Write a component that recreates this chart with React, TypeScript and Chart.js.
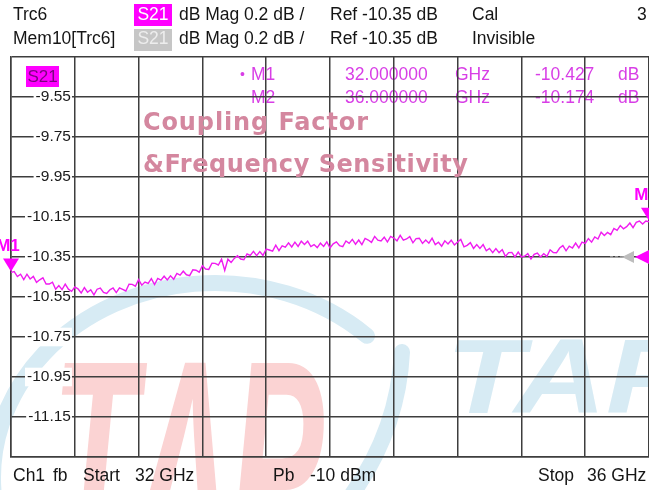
import React, { useEffect, useRef } from 'react';
import { Chart, registerables } from 'chart.js';

Chart.register(...registerables);

const FONT = "'Liberation Sans', Arial, Helvetica, sans-serif";
const WIDE_FONT = "'DejaVu Sans', Verdana, sans-serif";

// Sweep
const START_GHZ = 32;
const STOP_GHZ = 36;

// Trc6 S21 dB Mag (201 sweep points)
const S21_DB = [
  -10.427, -10.423, -10.448, -10.436, -10.463,
  -10.436, -10.460, -10.447, -10.477, -10.464,
  -10.454, -10.485, -10.485, -10.476, -10.511,
  -10.493, -10.513, -10.486, -10.511, -10.522,
  -10.500, -10.509, -10.530, -10.503, -10.526,
  -10.514, -10.539, -10.511, -10.505, -10.527,
  -10.532, -10.514, -10.505, -10.528, -10.504,
  -10.512, -10.520, -10.486, -10.487, -10.496,
  -10.463, -10.491, -10.475, -10.482, -10.458,
  -10.488, -10.457, -10.466, -10.446, -10.465,
  -10.444, -10.461, -10.432, -10.441, -10.421,
  -10.439, -10.443, -10.414, -10.416, -10.426,
  -10.394, -10.410, -10.412, -10.381, -10.382,
  -10.390, -10.361, -10.417, -10.361, -10.377,
  -10.357, -10.344, -10.360, -10.364, -10.335,
  -10.342, -10.322, -10.343, -10.323, -10.342,
  -10.310, -10.315, -10.321, -10.291, -10.318,
  -10.294, -10.301, -10.279, -10.300, -10.276,
  -10.297, -10.271, -10.287, -10.271, -10.298,
  -10.288, -10.303, -10.281, -10.297, -10.274,
  -10.305, -10.284, -10.274, -10.293, -10.298,
  -10.270, -10.282, -10.262, -10.286, -10.265,
  -10.288, -10.257, -10.265, -10.277, -10.247,
  -10.266, -10.270, -10.251, -10.275, -10.247,
  -10.255, -10.269, -10.242, -10.266, -10.260,
  -10.248, -10.279, -10.258, -10.256, -10.282,
  -10.265, -10.281, -10.256, -10.288, -10.276,
  -10.296, -10.269, -10.285, -10.266, -10.290,
  -10.275, -10.262, -10.299, -10.292, -10.278,
  -10.307, -10.288, -10.307, -10.288, -10.319,
  -10.307, -10.328, -10.308, -10.328, -10.313,
  -10.347, -10.328, -10.327, -10.350, -10.325,
  -10.350, -10.346, -10.333, -10.360, -10.337,
  -10.330, -10.350, -10.334, -10.347, -10.314,
  -10.328, -10.329, -10.305, -10.293, -10.319,
  -10.296, -10.305, -10.280, -10.304, -10.276,
  -10.282, -10.258, -10.276, -10.250, -10.260,
  -10.226, -10.243, -10.227, -10.238, -10.207,
  -10.217, -10.193, -10.209, -10.198, -10.180,
  -10.203, -10.177, -10.170, -10.185, -10.170,
  -10.174,
];

const X_TICKS_GHZ = [32, 32.4, 32.8, 33.2, 33.6, 34, 34.4, 34.8, 35.2, 35.6, 36];
const Y_TICKS_DB = [-9.35, -9.55, -9.75, -9.95, -10.15, -10.35, -10.55, -10.75, -10.95, -11.15, -11.35];
const Y_TICK_LABELS = ['', '-9.55', '-9.75', '-9.95', '-10.15', '-10.35', '-10.55', '-10.75', '-10.95', '-11.15', ''];

const MARKER_NAMES = ['M1', 'M2'];
const MARKER_GHZ = [32, 36];
const MARKER_DB = [-10.427, -10.174];
const MARKER_FREQ_TEXT = ['32.000000', '36.000000'];
const MARKER_VAL_TEXT = ['-10.427', '-10.174'];
const REF_LEVEL_DB = -10.35;

const TRACE = '#f01cf0';
const MAG = '#ff00ff';
const MARK_TXT = '#d83ee6';

function txt(ctx: CanvasRenderingContext2D, s: string, x: number, y: number, color: string, font: string, align: CanvasTextAlign = 'left') {
  ctx.font = font;
  ctx.fillStyle = color;
  ctx.textAlign = align;
  ctx.textBaseline = 'middle';
  ctx.fillText(s, x, y);
}

function spacedText(ctx: CanvasRenderingContext2D, s: string, x: number, y: number, target: number) {
  (ctx as any).letterSpacing = '0px';
  const w = ctx.measureText(s).width;
  const ls = (target - w) / Math.max(1, s.length - 1);
  if (ls >= 0) {
    (ctx as any).letterSpacing = ls + 'px';
    ctx.fillText(s, x, y);
  } else {
    ctx.fillText(s, x, y, target);
  }
  (ctx as any).letterSpacing = '0px';
}

const vnaPlugin = {
  id: 'vnaOverlay',
  beforeDraw(chart: any) {
    const ctx: CanvasRenderingContext2D = chart.ctx;
    ctx.save();
    ctx.fillStyle = '#ffffff';
    ctx.fillRect(0, 0, chart.width, chart.height);

    // watermark: blue ring
    ctx.strokeStyle = '#d7ebf4';
    ctx.lineWidth = 16;
    ctx.lineCap = 'round';
    ctx.beginPath();
    ctx.ellipse(215, 478, 222, 195, 0, Math.PI * 0.97, Math.PI * 1.74);
    ctx.stroke();
    ctx.beginPath();
    ctx.moveTo(402, 352);
    ctx.quadraticCurveTo(398, 432, 348, 500);
    ctx.stroke();

    // watermark: red TAP
    ctx.fillStyle = '#fbd3d3';
    ctx.font = `bold italic 285px ${FONT}`;
    ctx.textAlign = 'left';
    ctx.textBaseline = 'alphabetic';
    ctx.save();
    ctx.translate(52, 559);
    ctx.scale(0.49, 1);
    ctx.fillText('T\u039BP', 0, 0);
    ctx.restore();

    // watermark: blue TAP
    ctx.fillStyle = '#d7ebf4';
    ctx.font = `bold italic 106px ${FONT}`;
    ctx.save();
    ctx.translate(446, 413);
    ctx.scale(1.2, 1);
    ctx.fillText('TAP', 0, 0);
    ctx.restore();

    // marker readout (under the grid)
    const f = `17.5px ${FONT}`;
    const rows = [75, 98];
    MARKER_NAMES.forEach((m, i) => {
      const y = rows[i];
      if (i === 0) txt(ctx, '\u2022', 240, y, MARK_TXT, `14px ${FONT}`);
      txt(ctx, m, 251, y, MARK_TXT, f);
      txt(ctx, MARKER_FREQ_TEXT[i], 345, y, MARK_TXT, f);
      txt(ctx, 'GHz', 455, y, MARK_TXT, f);
      txt(ctx, MARKER_VAL_TEXT[i], 535, y, MARK_TXT, f);
      txt(ctx, 'dB', 618, y, MARK_TXT, f);
    });
    ctx.restore();
  },
  afterDraw(chart: any) {
    const ctx: CanvasRenderingContext2D = chart.ctx;
    const xs = chart.scales.x;
    const ys = chart.scales.y;
    ctx.save();
    const f = `17.5px ${FONT}`;
    const dark = '#151515';

    // header rows
    const r1 = 15.5;
    const r2 = 39.5;
    txt(ctx, 'Trc6', 13, r1, dark, f);
    ctx.fillStyle = MAG;
    ctx.fillRect(134, 4, 38, 22);
    txt(ctx, 'S21', 153, r1, '#ffffff', f, 'center');
    txt(ctx, 'dB Mag', 179, r1, dark, f);
    txt(ctx, '0.2 dB /', 244, r1, dark, f);
    txt(ctx, 'Ref -10.35 dB', 330, r1, dark, f);
    txt(ctx, 'Cal', 472, r1, dark, f);
    txt(ctx, '3', 637, r1, dark, f);
    txt(ctx, 'Mem10[Trc6]', 13, r2, dark, f);
    ctx.fillStyle = '#c6c6c6';
    ctx.fillRect(134, 29, 38, 22);
    txt(ctx, 'S21', 153, r2, '#ededed', f, 'center');
    txt(ctx, 'dB Mag', 179, r2, dark, f);
    txt(ctx, '0.2 dB /', 244, r2, dark, f);
    txt(ctx, 'Ref -10.35 dB', 330, r2, dark, f);
    txt(ctx, 'Invisible', 472, r2, dark, f);

    // trace label box
    ctx.fillStyle = MAG;
    ctx.fillRect(26, 66, 33, 21);
    txt(ctx, 'S21', 42.5, 77, '#7a067e', `17px ${FONT}`, 'center');

    // title watermark
    ctx.fillStyle = '#d4879f';
    ctx.font = `bold 24px ${WIDE_FONT}`;
    ctx.textAlign = 'left';
    ctx.textBaseline = 'middle';
    spacedText(ctx, 'Coupling Factor', 143, 124, 225);
    spacedText(ctx, '&Frequency Sensitivity', 143, 166, 325);

    // markers
    MARKER_GHZ.forEach((fq, i) => {
      const px = xs.getPixelForValue(fq);
      const py = ys.getPixelForValue(MARKER_DB[i]);
      ctx.fillStyle = MAG;
      ctx.beginPath();
      ctx.moveTo(px, py - 1);
      ctx.lineTo(px - 8, py - 14);
      ctx.lineTo(px + 8, py - 14);
      ctx.closePath();
      ctx.fill();
      txt(ctx, MARKER_NAMES[i], px - 3, py - 26, MAG, `bold 17px ${FONT}`, 'center');
    });

    // reference level arrows
    const ry = ys.getPixelForValue(REF_LEVEL_DB);
    ctx.strokeStyle = '#a8a8a8';
    ctx.lineWidth = 1.5;
    ctx.setLineDash([3, 2]);
    ctx.beginPath();
    ctx.moveTo(610, ry);
    ctx.lineTo(624, ry);
    ctx.stroke();
    ctx.setLineDash([]);
    ctx.fillStyle = '#bdbdbd';
    ctx.beginPath();
    ctx.moveTo(622, ry);
    ctx.lineTo(634, ry - 6);
    ctx.lineTo(634, ry + 6);
    ctx.closePath();
    ctx.fill();
    ctx.fillStyle = MAG;
    ctx.beginPath();
    ctx.moveTo(635, ry);
    ctx.lineTo(653, ry - 9);
    ctx.lineTo(653, ry + 9);
    ctx.closePath();
    ctx.fill();

    // footer
    const fy = 476;
    txt(ctx, 'Ch1', 13, fy, dark, f);
    txt(ctx, 'fb', 53, fy, dark, f);
    txt(ctx, 'Start', 83, fy, dark, f);
    txt(ctx, '32 GHz', 135, fy, dark, f);
    txt(ctx, 'Pb', 273, fy, dark, f);
    txt(ctx, '-10 dBm', 310, fy, dark, f);
    txt(ctx, 'Stop', 538, fy, dark, f);
    txt(ctx, '36 GHz', 587, fy, dark, f);
    ctx.restore();
  },
};

export default function App() {
  const ref = useRef<HTMLCanvasElement>(null);
  useEffect(() => {
    const canvas = ref.current;
    if (!canvas) return;
    const n = S21_DB.length;
    const points = S21_DB.map((v, i) => ({ x: START_GHZ + (i * (STOP_GHZ - START_GHZ)) / (n - 1), y: v }));
    const gridColor = '#3e3e3e';
    const chart = new Chart(canvas, {
      type: 'line',
      data: {
        datasets: [
          {
            label: 'Trc6 S21',
            data: points,
            borderColor: TRACE,
            borderWidth: 1.4,
            pointRadius: 0,
            tension: 0,
            fill: false,
          },
        ],
      },
      options: {
        animation: false,
        responsive: false,
        devicePixelRatio: 1,
        layout: { padding: { left: 11, top: 57, right: -2, bottom: 33 } },
        plugins: { legend: { display: false }, tooltip: { enabled: false } },
        scales: {
          x: {
            type: 'linear',
            min: START_GHZ,
            max: STOP_GHZ,
            afterBuildTicks: (scale: any) => {
              scale.ticks = X_TICKS_GHZ.map((v) => ({ value: v }));
            },
            ticks: { display: false },
            grid: { color: gridColor, lineWidth: 1.5, drawTicks: false },
            border: { display: true, color: gridColor, width: 1.5 },
          },
          y: {
            type: 'linear',
            min: -11.35,
            max: -9.35,
            afterBuildTicks: (scale: any) => {
              scale.ticks = Y_TICKS_DB.map((v) => ({ value: v }));
            },
            afterFit: (scale: any) => {
              scale.width = 0;
            },
            ticks: {
              autoSkip: false,
              mirror: true,
              crossAlign: 'far',
              padding: 16,
              color: '#1a1a1a',
              font: { family: FONT, size: 15.5 },
              callback: (value: any) => {
                const idx = Y_TICKS_DB.findIndex((t) => Math.abs(t - Number(value)) < 1e-6);
                return idx >= 0 ? Y_TICK_LABELS[idx] : '';
              },
              showLabelBackdrop: (c: any) => !!(c.tick && c.tick.label),
              backdropColor: '#ffffff',
              backdropPadding: { top: 0, bottom: 0, left: 2, right: 1 },
            } as any,
            grid: { color: gridColor, lineWidth: 1.5, drawTicks: false },
            border: { display: true, color: gridColor, width: 1.5 },
          },
        },
      },
      plugins: [vnaPlugin],
    } as any);
    return () => chart.destroy();
  }, []);
  return (
    <div style={{ position: 'absolute', left: 0, top: 0, width: 649, height: 490, background: '#fff' }}>
      <canvas ref={ref} width={649} height={490} style={{ display: 'block', width: 649, height: 490 }} />
    </div>
  );
}
